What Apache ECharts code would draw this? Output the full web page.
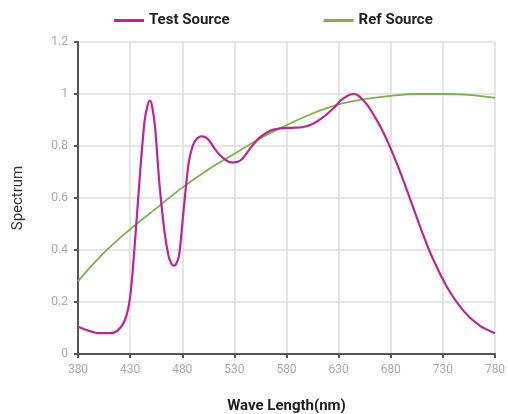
<!DOCTYPE html>
<html>
<head>
<meta charset="utf-8">
<script src="https://cdn.jsdelivr.net/npm/echarts@6/dist/echarts.min.js"></script>
<style>
  html, body { margin: 0; padding: 0; background: #fff; }
  #chart { width: 508px; height: 414px; }
</style>
</head>
<body>
<div id="chart"></div>
<script>
  // 光谱数据 (波长 nm / 相对强度)
  var testWave = [380, 390, 400, 410, 418, 425, 430, 435, 440, 444, 447, 449, 451, 454, 458, 463, 467, 470, 472, 474, 477, 481, 486, 490, 494, 498, 502, 506, 511, 516, 522, 527, 532, 538, 546, 555, 565, 575, 585, 595, 605, 615, 625, 632, 638, 642, 645, 648, 652, 658, 665, 672, 680, 690, 700, 710, 720, 735, 750, 765, 780];
  var testValue = [0.105, 0.09, 0.08, 0.08, 0.09, 0.13, 0.22, 0.45, 0.72, 0.9, 0.96, 0.975, 0.955, 0.87, 0.66, 0.47, 0.375, 0.345, 0.34, 0.345, 0.38, 0.54, 0.73, 0.8, 0.828, 0.837, 0.835, 0.82, 0.79, 0.765, 0.745, 0.737, 0.738, 0.752, 0.795, 0.835, 0.86, 0.868, 0.87, 0.872, 0.885, 0.91, 0.945, 0.975, 0.992, 0.999, 1.0, 0.996, 0.983, 0.955, 0.91, 0.86, 0.79, 0.69, 0.58, 0.47, 0.37, 0.25, 0.165, 0.11, 0.08];
  var refWave = [380, 405, 430, 455, 480, 505, 530, 555, 580, 605, 630, 655, 680, 705, 730, 755, 780];
  var refValue = [0.28, 0.39, 0.48, 0.56, 0.64, 0.71, 0.77, 0.83, 0.88, 0.925, 0.96, 0.98, 0.993, 1.0, 1.0, 0.997, 0.985];
  var waveStart = 380;

  function pairs(xs, ys) {
    return xs.map(function (x, i) { return [x - waveStart, ys[i]]; });
  }

  var chart = echarts.init(document.getElementById('chart'));
  var option = {
    animation: false,
    legend: {
      top: 8,
      left: 109,
      itemGap: 94,
      itemWidth: 30,
      itemHeight: 3,
      icon: 'rect',
      textStyle: { fontFamily: 'Roboto', fontWeight: 'bold', fontSize: 15, color: '#222' },
      data: ['Test Source', 'Ref Source']
    },
    grid: { left: 78, right: 13, top: 42, bottom: 60, outerBoundsMode: 'none' },
    xAxis: {
      type: 'value',
      min: 0,
      max: 400,
      interval: 50,
      name: 'Wave Length(nm)',
      nameLocation: 'middle',
      nameGap: 45,
      nameTextStyle: { fontFamily: 'Roboto', fontWeight: 'bold', fontSize: 15, color: '#222' },
      axisLine: { lineStyle: { color: '#555', width: 2 } },
      axisTick: { length: 4, lineStyle: { color: '#555', width: 2 } },
      axisLabel: {
        color: '#aaa', fontFamily: 'Roboto', fontSize: 12, margin: 10,
        formatter: function (v) { return v + waveStart; }
      },
      splitLine: { show: true, lineStyle: { color: '#ddd', width: 1.5 } }
    },
    yAxis: {
      type: 'value',
      min: 0,
      max: 1.2,
      interval: 0.2,
      name: 'Spectrum',
      nameLocation: 'middle',
      nameGap: 52,
      nameTextStyle: { fontFamily: 'Roboto', fontSize: 15, color: '#333' },
      axisLine: { show: true, lineStyle: { color: '#555', width: 2 } },
      axisTick: { show: true, length: 4, lineStyle: { color: '#555', width: 2 } },
      axisLabel: {
        color: '#aaa', fontFamily: 'Roboto', fontSize: 12, margin: 10,
        formatter: function (v) { return Math.round(v * 10) / 10; }
      },
      splitLine: { show: true, lineStyle: { color: '#ddd', width: 1.5 } }
    },
    series: [
      {
        name: 'Test Source',
        type: 'line',
        smooth: 0.3,
        showSymbol: false,
        lineStyle: { color: '#c0248e', width: 2.2 },
        itemStyle: { color: '#c0248e' },
        data: pairs(testWave, testValue),
        z: 3
      },
      {
        name: 'Ref Source',
        type: 'line',
        smooth: 0.4,
        showSymbol: false,
        lineStyle: { color: '#78b446', width: 1.8 },
        itemStyle: { color: '#78b446' },
        data: pairs(refWave, refValue),
        z: 2
      }
    ]
  };
  chart.setOption(option);
  window.addEventListener('resize', function () {
    chart.resize();
  });
</script>
</body>
</html>
